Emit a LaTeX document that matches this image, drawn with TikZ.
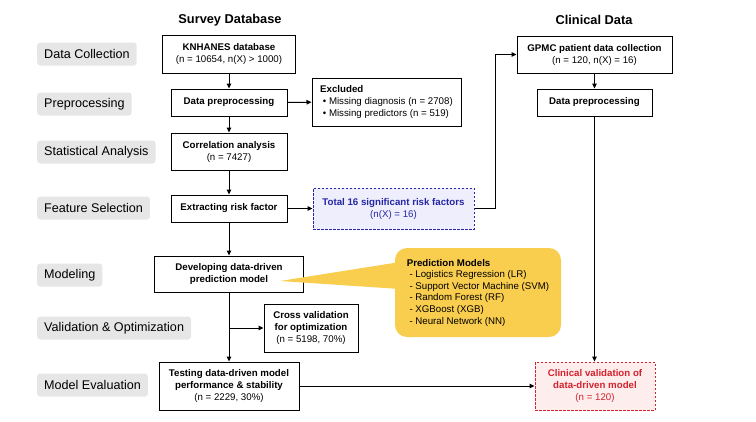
\documentclass[tikz,border=0pt]{standalone}
\usepackage{fontspec}
\setmainfont{Liberation Sans}
\usetikzlibrary{arrows.meta}

\definecolor{stagegray}{RGB}{230,230,230}
\definecolor{calloutyellow}{RGB}{249,205,78}
\definecolor{riskblue}{RGB}{38,38,165}
\definecolor{riskfill}{RGB}{238,238,252}
\definecolor{valred}{RGB}{214,34,44}
\definecolor{valfill}{RGB}{253,237,237}

\begin{document}
\begin{tikzpicture}[x=1pt,y=-1pt,
  stage/.style={fill=stagegray, rounded corners=3pt, minimum height=23pt,
    inner xsep=7pt, anchor=west, font=\fontsize{12.6}{14}\selectfont},
  box/.style={draw, line width=1pt, align=center, inner sep=2pt,
    font=\fontsize{9.7}{12}\selectfont},
  heading/.style={font=\fontsize{12.8}{15}\selectfont\bfseries},
  arr/.style={line width=1pt, -{Triangle[length=5pt,width=4.5pt]}},
  link/.style={line width=1pt}]
  \useasboundingbox (0,0) rectangle (756,421);

  % Column titles
  \node[heading] (survey) at (230,20) {Survey Database};
  \node[heading] (clinical) at (594,20) {Clinical Data};

  % Stages
  \foreach \y/\txt/\nm in {54/Data Collection/collect, 104/Preprocessing/preproc,
      152/Statistical Analysis/stat, 208/Feature Selection/feature,
      275/Modeling/model, 328/{Validation \& Optimization}/valid,
      385/Model Evaluation/eval} {
    \node[stage] (st-\nm) at (37,\y) {\txt};
  }

  % Survey database column
  \node[box, minimum width=133pt, minimum height=38pt] (knhanes) at (229,54)
    {\textbf{KNHANES database}\\(n = 10654, n(X) > 1000)};
  \node[box, minimum width=116pt, minimum height=27pt] (prep) at (229,102.5)
    {\textbf{Data preprocessing}};
  \node[box, minimum width=149pt, minimum height=48pt, align=left]
    (excluded) at (386.5,102)
    {\textbf{Excluded}\\
     \ \textbullet\ Missing diagnosis (n = 2708)\\
     \ \textbullet\ Missing predictors (n = 519)};
  \node[box, minimum width=116pt, minimum height=37pt] (corr) at (229,151.5)
    {\textbf{Correlation analysis}\\(n = 7427)};
  \node[box, minimum width=116pt, minimum height=27pt] (extract) at (229,208.5)
    {\textbf{Extracting risk factor}};
  \node[box, draw=riskblue, fill=riskfill, text=riskblue,
    dash pattern=on 2.5pt off 1.5pt, minimum width=161pt, minimum height=41pt]
    (factors) at (393.5,208.5)
    {\textbf{Total 16 significant risk factors}\\(n(X) = 16)};
  \node[box, minimum width=149pt, minimum height=36pt] (develop) at (229,274)
    {\textbf{Developing data-driven}\\\textbf{prediction model}};
  \node[box, minimum width=94pt, minimum height=48pt] (cross) at (311,328)
    {\textbf{Cross validation}\\\textbf{for optimization}\\(n = 5198, 70\%)};
  \node[box, minimum width=140pt, minimum height=48pt] (testing) at (229,386)
    {\textbf{Testing data-driven model}\\\textbf{performance \& stability}\\(n = 2229, 30\%)};

  % Prediction models callout
  \node[fill=calloutyellow, rounded corners=12pt, minimum width=166pt,
    minimum height=89pt, align=left,
    font=\fontsize{9.7}{11.6}\selectfont] (models) at (478,292.5)
    {\textbf{Prediction Models}\\
     \ - Logistics Regression (LR)\\
     \ - Support Vector Machine (SVM)\\
     \ - Random Forest (RF)\\
     \ - XGBoost (XGB)\\
     \ - Neural Network (NN)};
  \fill[calloutyellow] (280,281) -- (400,262) -- (400,289) -- cycle;

  % Clinical data column
  \node[box, minimum width=155pt, minimum height=37pt] (gpmc) at (594.5,54.5)
    {\textbf{GPMC patient data collection}\\(n = 120, n(X) = 16)};
  \node[box, minimum width=115pt, minimum height=27pt] (cprep) at (594.5,102.5)
    {\textbf{Data preprocessing}};
  \node[box, draw=valred, fill=valfill, text=valred,
    dash pattern=on 2.5pt off 1.5pt, minimum width=120pt, minimum height=48pt]
    (clinval) at (595,386)
    {\textbf{Clinical validation of}\\\textbf{data-driven model}\\(n = 120)};

  % Connectors
  \draw[arr] (knhanes) -- (prep);
  \draw[arr] (prep) -- (excluded);
  \draw[arr] (prep) -- (corr);
  \draw[arr] (corr) -- (extract);
  \draw[arr] (extract) -- (factors);
  \draw[arr] (extract) -- (develop);
  \draw[arr] (develop) -- (testing);
  \draw[arr] (develop.south |- cross.west) -- (cross.west);
  \draw[arr] (testing) -- (clinval);
  \coordinate (turn) at (495,0);
  \draw[arr] (factors.east) -| (turn |- gpmc.west) -- (gpmc.west);
  \draw[arr] (gpmc) -- (cprep);
  \draw[arr] (cprep.south) -- (cprep.south |- clinval.north);
\end{tikzpicture}
\end{document}
